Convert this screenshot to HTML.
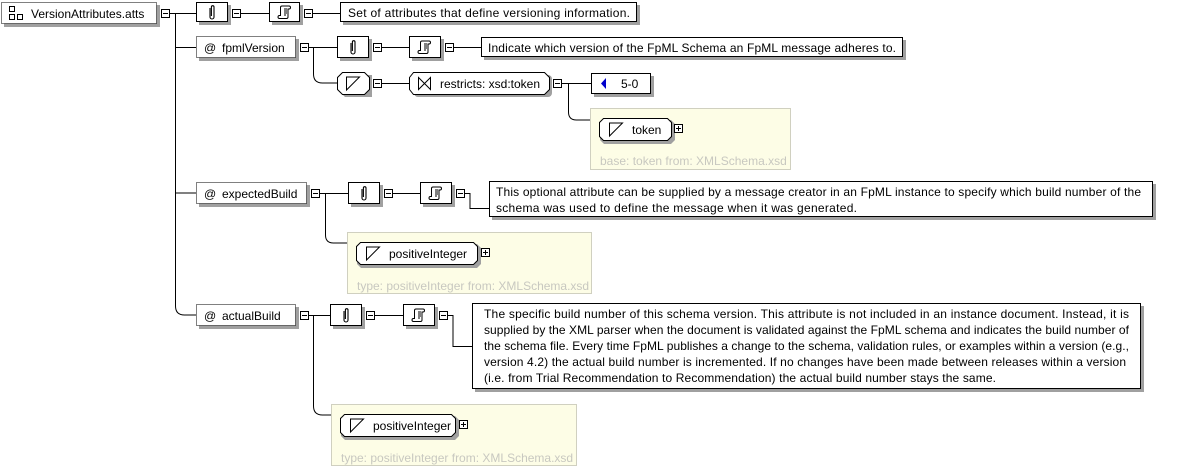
<!DOCTYPE html>
<html><head><meta charset="utf-8"><style>
body{margin:0;background:#fff;width:1194px;height:468px;overflow:hidden}
svg{display:block}
text{font-family:"Liberation Sans",sans-serif;font-size:12px;fill:#000}
</style></head><body>
<svg width="1194" height="468" viewBox="0 0 1194 468">
<defs>
<g id="mi"><rect x="0.5" y="0.5" width="8" height="8" fill="#fff" stroke="#000"/><line x1="2" y1="4.5" x2="7" y2="4.5" stroke="#000"/></g>
<g id="pl"><rect x="0.5" y="0.5" width="8" height="8" fill="#fff" stroke="#000"/><line x1="2" y1="4.5" x2="7" y2="4.5" stroke="#000"/><line x1="4.5" y1="2" x2="4.5" y2="7" stroke="#000"/></g>
<g id="clip"><path d="M-2,-4 v9 a2,2 0 0 0 4,0 v-10 a1.3,1.3 0 0 0 -2.6,0 v9" fill="none" stroke="#000" stroke-width="1.1"/></g>
<g id="doc"><path d="M-3,-6 h7 a1.5,1.5 0 0 1 0,3 h-1 v8 a1.5,1.5 0 0 1 -1.5,1.5 h-7 a1.5,1.5 0 0 1 0,-3 h1 v-8 a1.5,1.5 0 0 1 1.5,-1.5 z M-1,-3h3 M-1,-1h3 M-1,1h3 M-1,3h2" fill="#fff" stroke="#000" stroke-width="1"/></g>
<g id="st"><path d="M-6.5,-6.5 H6.5 L-6.5,6.5 Z" fill="none" stroke="#000"/></g>
</defs>
<g stroke="#000" fill="none" stroke-width="1">
<path d="M170,13.5 H196 M175.5,13 V306 q0,9 9,9 H196 M175.5,47.5 H196 M175.5,193 H196"/>
<path d="M241,13.5 H269 M313,13.5 H340"/>
<path d="M309,47.5 H337 M313.5,47 V74 q0,9 9,9 H337 M382,47.5 H409 M454,47.5 H481"/>
<path d="M382,83.5 H409 M562,83.5 H591 M568.5,83 V112 q0,8 8,8 H590"/>
<path d="M320,193.5 H348 M325.5,193 V235 q0,8 8,8 H347 M393,193.5 H420 M465,193.5 H470 V208.5 H489"/>
<path d="M309,315.5 H330 M313.5,315 V406 q0,9 9,9 H331 M375,315.5 H403 M448,315.5 H453 V346.5 H472"/>
</g>

<g fill="#a0a0a0">
<rect x="4" y="5" width="156" height="22"/>
<rect x="199" y="5" width="32" height="20"/><rect x="272" y="5" width="31" height="20"/><rect x="343" y="5" width="297" height="20"/>
<rect x="199" y="39" width="100" height="22"/>
<rect x="340" y="39" width="32" height="22"/><rect x="412" y="39" width="32" height="22"/><rect x="484" y="40" width="422" height="20"/>
<polygon points="345,75 375,75 372,75 372,97 345,97 340,92 340,80"/>
<rect x="414" y="75" width="138" height="22" rx="4"/>
<rect x="594" y="76" width="60" height="21"/>
<rect x="199" y="185" width="111" height="22"/>
<rect x="351" y="185" width="32" height="22"/><rect x="423" y="185" width="32" height="22"/><rect x="492" y="184" width="664" height="36"/>
<rect x="199" y="307" width="100" height="22"/>
<rect x="333" y="307" width="32" height="22"/><rect x="406" y="307" width="32" height="22"/><rect x="475" y="306" width="669" height="86"/>
</g>

<rect x="1.5" y="2.5" width="155" height="21" fill="#fff" stroke="#000" stroke-dasharray="1,1"/>
<g fill="none" stroke="#000"><rect x="9.5" y="6.5" width="5" height="5"/><rect x="9.5" y="14.5" width="5" height="5"/><rect x="17.5" y="14.5" width="5" height="5"/></g>
<text x="31" y="18">VersionAttributes.atts</text>
<use href="#mi" x="161" y="9"/>

<rect x="196.5" y="2.5" width="31" height="19" fill="#fff" stroke="#000"/><use href="#clip" x="212" y="12"/>
<use href="#mi" x="232" y="9"/>
<rect x="269.5" y="2.5" width="30" height="19" fill="#fff" stroke="#000"/><use href="#doc" x="285" y="12"/>
<use href="#mi" x="304" y="9"/>
<rect x="340.5" y="2.5" width="296" height="19" fill="#fff" stroke="#000"/>
<text x="348" y="17" textLength="282">Set of attributes that define versioning information.</text>

<rect x="196.5" y="36.5" width="99" height="21" fill="#fff" stroke="#000" stroke-dasharray="1,1"/>
<text x="204" y="52">@</text><text x="222" y="52">fpmlVersion</text>
<use href="#mi" x="300" y="43"/>
<rect x="337.5" y="36.5" width="31" height="21" fill="#fff" stroke="#000"/><use href="#clip" x="353" y="47"/>
<use href="#mi" x="373" y="43"/>
<rect x="409.5" y="36.5" width="31" height="21" fill="#fff" stroke="#000"/><use href="#doc" x="425" y="47"/>
<use href="#mi" x="445" y="43"/>
<rect x="481.5" y="37.5" width="421" height="19" fill="#fff" stroke="#000"/>
<text x="488" y="52" textLength="408">Indicate which version of the FpML Schema an FpML message adheres to.</text>

<polygon points="342.5,72.5 364.5,72.5 369.5,77.5 369.5,89.5 364.5,94.5 342.5,94.5 337.5,89.5 337.5,77.5" fill="#fff" stroke="#000"/>
<use href="#st" x="353" y="83.5"/>
<use href="#mi" x="373" y="79"/>
<polygon points="413.5,72.5 544.5,72.5 549.5,77.5 549.5,89.5 544.5,94.5 413.5,94.5 409.5,89.5 409.5,77.5" fill="#fff" stroke="#000"/>
<path d="M418.5,77.5 L430.5,89.5 V77.5 L418.5,89.5 Z" fill="none" stroke="#000"/>
<text x="440" y="88">restricts: xsd:token</text>
<use href="#mi" x="553" y="79"/>
<rect x="591.5" y="73.5" width="59" height="20" fill="#fff" stroke="#000"/>
<polygon points="601,83.5 606,78 606,89" fill="#0000cc"/>
<text x="621" y="88">5-0</text>

<rect x="590.5" y="108.5" width="200" height="61" fill="#fdfde6" stroke="#d0d0c0"/>
<polygon points="604,120 671,120 675,124 675,140 671,144 604,144 600,140 600,124" fill="#a0a0a0"/>
<polygon points="603.5,118.5 667.5,118.5 671.5,122.5 671.5,136.5 667.5,140.5 603.5,140.5 599.5,136.5 599.5,122.5" fill="#fff" stroke="#000"/>
<use href="#st" x="616" y="129.5"/>
<text x="632" y="134">token</text>
<use href="#pl" x="674" y="124"/>
<text x="600" y="165" style="fill:#c8c8c0">base: token from: XMLSchema.xsd</text>

<rect x="196.5" y="182.5" width="110" height="21" fill="#fff" stroke="#000" stroke-dasharray="1,1"/>
<text x="204" y="198">@</text><text x="222" y="198">expectedBuild</text>
<use href="#mi" x="311" y="189"/>
<rect x="348.5" y="182.5" width="31" height="21" fill="#fff" stroke="#000"/><use href="#clip" x="364" y="193"/>
<use href="#mi" x="384" y="189"/>
<rect x="420.5" y="182.5" width="31" height="21" fill="#fff" stroke="#000"/><use href="#doc" x="436" y="193"/>
<use href="#mi" x="456" y="189"/>
<rect x="489.5" y="181.5" width="663" height="35" fill="#fff" stroke="#000"/>
<text x="496" y="196" textLength="645">This optional attribute can be supplied by a message creator in an FpML instance to specify which build number of the</text>
<text x="496" y="212" textLength="361">schema was used to define the message when it was generated.</text>

<rect x="347.5" y="232.5" width="244" height="61" fill="#fdfde6" stroke="#d0d0c0"/>
<polygon points="361,244 477,244 481,248 481,264 477,268 361,268 357,264 357,248" fill="#a0a0a0"/>
<polygon points="360.5,242.5 473.5,242.5 477.5,246.5 477.5,260.5 473.5,264.5 360.5,264.5 356.5,260.5 356.5,246.5" fill="#fff" stroke="#000"/>
<use href="#st" x="373" y="253.5"/>
<text x="389" y="258">positiveInteger</text>
<use href="#pl" x="481" y="248"/>
<text x="357" y="290" style="fill:#c8c8c0">type: positiveInteger from: XMLSchema.xsd</text>

<rect x="196.5" y="304.5" width="99" height="21" fill="#fff" stroke="#000" stroke-dasharray="1,1"/>
<text x="204" y="320">@</text><text x="222" y="320">actualBuild</text>
<use href="#mi" x="300" y="311"/>
<rect x="330.5" y="304.5" width="31" height="21" fill="#fff" stroke="#000"/><use href="#clip" x="346" y="315"/>
<use href="#mi" x="366" y="311"/>
<rect x="403.5" y="304.5" width="31" height="21" fill="#fff" stroke="#000"/><use href="#doc" x="419" y="315"/>
<use href="#mi" x="439" y="311"/>
<rect x="472.5" y="303.5" width="668" height="85" fill="#fff" stroke="#000"/>
<text x="484" y="318" textLength="645">The specific build number of this schema version. This attribute is not included in an instance document. Instead, it is</text>
<text x="484" y="334" textLength="645">supplied by the XML parser when the document is validated against the FpML schema and indicates the build number of</text>
<text x="484" y="350" textLength="645">the schema file. Every time FpML publishes a change to the schema, validation rules, or examples within a version (e.g.,</text>
<text x="484" y="366" textLength="642">version 4.2) the actual build number is incremented. If no changes have been made between releases within a version</text>
<text x="484" y="382" textLength="512">(i.e. from Trial Recommendation to Recommendation) the actual build number stays the same.</text>

<rect x="331.5" y="404.5" width="245" height="61" fill="#fdfde6" stroke="#d0d0c0"/>
<polygon points="345,416 455,416 459,420 459,436 455,440 345,440 341,436 341,420" fill="#a0a0a0"/>
<polygon points="344.5,414.5 451.5,414.5 455.5,418.5 455.5,432.5 451.5,436.5 344.5,436.5 340.5,432.5 340.5,418.5" fill="#fff" stroke="#000"/>
<use href="#st" x="357" y="425.5"/>
<text x="373" y="430">positiveInteger</text>
<use href="#pl" x="459" y="420"/>
<text x="341" y="462" style="fill:#c8c8c0">type: positiveInteger from: XMLSchema.xsd</text>
</svg>
</body></html>
